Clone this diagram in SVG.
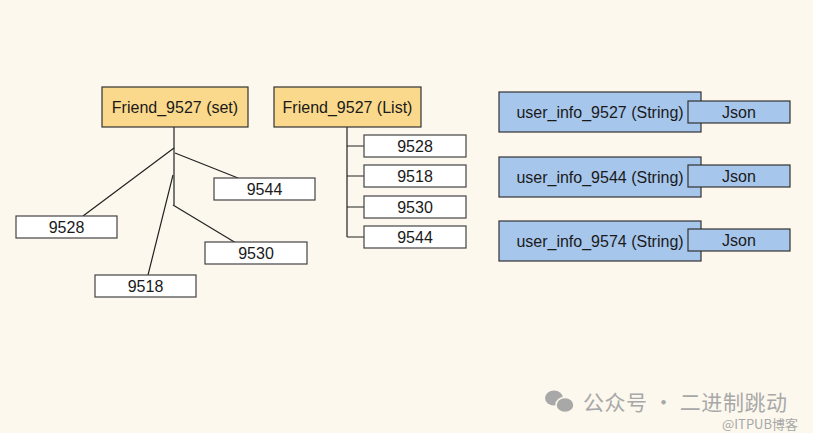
<svg xmlns="http://www.w3.org/2000/svg" width="813" height="433" viewBox="0 0 813 433">
<style>
.t{font-family:"Liberation Sans",Arial,sans-serif;font-size:16px;fill:#1a1a1a;text-anchor:middle;dominant-baseline:central}
.y{fill:#fad98c;stroke:#333;stroke-width:1.2}
.w{fill:#ffffff;stroke:#444;stroke-width:1.2}
.b{fill:#a7c6ec;stroke:#333;stroke-width:1.2}
.c{fill:none;stroke:#222;stroke-width:1.2}
.wm{font-family:"Noto Sans CJK SC","Liberation Sans",sans-serif;fill:#a8a8a8}
</style>
<rect width="813" height="433" fill="#fcf8ee"/>
<g id="connectors">
<path class="c" d="M174 127V205" stroke-width="2"/>
<path class="c" d="M174 148L83 216"/>
<path class="c" d="M175 153L238 178"/>
<path class="c" d="M173 175L148 275"/>
<path class="c" d="M173 205L236 243"/>
<path class="c" d="M347 127V237M347 146H364M347 176H364M347 207H364M347 237H364"/>
</g>
<g id="set"><rect class="y" x="102" y="87" width="146" height="40"/><text class="t" x="175" y="107">Friend_9527 (set)</text></g>
<g id="set9528"><rect class="w" x="16" y="216" width="101" height="22"/><text class="t" x="66.5" y="227">9528</text></g>
<g id="set9544"><rect class="w" x="214" y="178" width="101" height="22"/><text class="t" x="264.5" y="189">9544</text></g>
<g id="set9530"><rect class="w" x="205" y="242" width="102" height="22"/><text class="t" x="256" y="253">9530</text></g>
<g id="set9518"><rect class="w" x="95" y="275" width="101" height="22"/><text class="t" x="145.5" y="286">9518</text></g>
<g id="list"><rect class="y" x="274" y="87" width="147" height="40"/><text class="t" x="347.5" y="107">Friend_9527 (List)</text></g>
<g id="list9528"><rect class="w" x="364" y="135" width="102" height="22"/><text class="t" x="415" y="146">9528</text></g>
<g id="list9518"><rect class="w" x="364" y="165" width="102" height="22"/><text class="t" x="415" y="176">9518</text></g>
<g id="list9530"><rect class="w" x="364" y="196" width="102" height="22"/><text class="t" x="415" y="207">9530</text></g>
<g id="list9544"><rect class="w" x="364" y="226" width="102" height="22"/><text class="t" x="415" y="237">9544</text></g>
<g id="u9527"><rect class="b" x="499" y="92" width="202" height="40"/><text class="t" x="600" y="112">user_info_9527 (String)</text></g>
<g id="j9527"><rect class="b" x="688" y="101" width="102" height="22"/><text class="t" x="739" y="112">Json</text></g>
<g id="u9544"><rect class="b" x="499" y="157" width="202" height="40"/><text class="t" x="600" y="177">user_info_9544 (String)</text></g>
<g id="j9544"><rect class="b" x="688" y="165" width="102" height="22"/><text class="t" x="739" y="176">Json</text></g>
<g id="u9574"><rect class="b" x="499" y="221" width="202" height="40"/><text class="t" x="600" y="241">user_info_9574 (String)</text></g>
<g id="j9574"><rect class="b" x="688" y="229" width="102" height="22"/><text class="t" x="739" y="240">Json</text></g>
<g id="watermark">
<ellipse cx="554" cy="398" rx="9" ry="7.5" fill="#a8a8a8"/>
<ellipse cx="565" cy="405" rx="9" ry="7.5" fill="#a8a8a8" stroke="#fcf8ee" stroke-width="1.5"/>
<text class="wm" x="583" y="410" font-size="21" textLength="204" lengthAdjust="spacing">公众号 · 二进制跳动</text>
<text class="wm" x="722" y="429" font-size="13" fill="#b8b8b8">@ITPUB博客</text>
</g>
</svg>
